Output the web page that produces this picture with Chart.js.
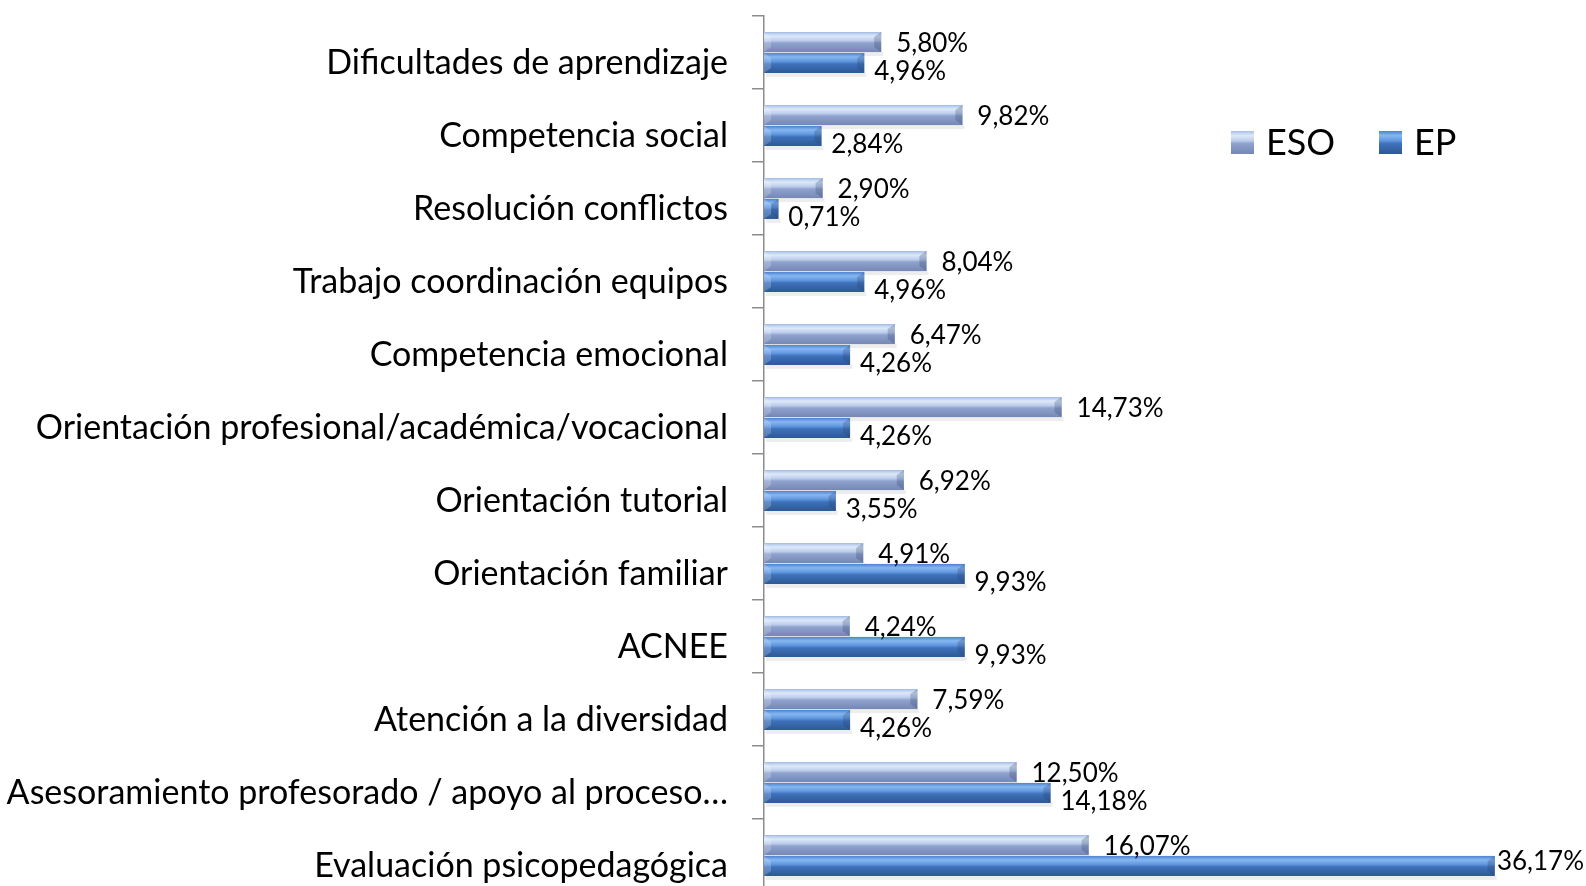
<!DOCTYPE html>
<html>
<head>
<meta charset="utf-8">
<script src="https://cdn.jsdelivr.net/npm/chart.js@4.4.1/dist/chart.umd.min.js"></script>
<style>
  html, body { margin: 0; padding: 0; overflow: hidden; background: #fff; }
</style>
</head>
<body>
<canvas id="chart" width="1586" height="892"></canvas>
<script>
const categories = [
  "Dificultades de aprendizaje",
  "Competencia social",
  "Resolución conflictos",
  "Trabajo coordinación equipos",
  "Competencia emocional",
  "Orientación profesional/académica/vocacional",
  "Orientación tutorial",
  "Orientación familiar",
  "ACNEE",
  "Atención a la diversidad",
  "Asesoramiento profesorado / apoyo al proceso…",
  "Evaluación psicopedagógica"
];
const esoValues = [5.80, 9.82, 2.90, 8.04, 6.47, 14.73, 6.92, 4.91, 4.24, 7.59, 12.50, 16.07];
const epValues = [4.96, 2.84, 0.71, 4.96, 4.26, 4.26, 3.55, 9.93, 9.93, 4.26, 14.18, 36.17];
const seriesNames = ["ESO", "EP"];

const FONT = "Lato";

// gradient stops per series (top -> bottom of bar)
const shades = [
  [[0, "#a7bfe6"], [0.2, "#dde9f9"], [0.42, "#bccdec"], [0.55, "#8fa2cd"], [1, "#7587b4"]],
  [[0, "#4d82cf"], [0.2, "#86b7f1"], [0.42, "#6097df"], [0.55, "#3f72bb"], [1, "#2d5893"]]
];

function makeGradient(ctx, i, top, h) {
  const g = ctx.createLinearGradient(0, top, 0, top + h);
  shades[i].forEach(([o, c]) => g.addColorStop(o, c));
  return g;
}

const barShade = {
  id: "barShade",
  beforeDatasetsDraw(chart) {
    const ctx = chart.ctx;
    ctx.save();
    ctx.fillStyle = "rgba(0,0,0,0.07)";
    chart.data.datasets.forEach((ds, i) => {
      chart.getDatasetMeta(i).data.forEach(bar => {
        const { x, y, base, height } = bar.getProps(["x", "y", "base", "height"], true);
        ctx.fillRect(base + 2, y + height / 2, x - base, 4);
      });
    });
    ctx.restore();
  },
  afterDatasetsDraw(chart) {
    const ctx = chart.ctx;
    ctx.save();
    chart.data.datasets.forEach((ds, i) => {
      chart.getDatasetMeta(i).data.forEach(bar => {
        const { x, y, base, height } = bar.getProps(["x", "y", "base", "height"], true);
        const top = y - height / 2;
        const bottom = top + height;
        ctx.fillStyle = makeGradient(ctx, i, top, height);
        ctx.fillRect(base, top, x - base, height);
        // bevelled ends
        const b = Math.min(7, (x - base) / 2);
        ctx.fillStyle = "rgba(40,60,100,0.25)";
        ctx.beginPath();
        ctx.moveTo(x, top); ctx.lineTo(x, bottom);
        ctx.lineTo(x - b, bottom - 5); ctx.lineTo(x - b, top + 5);
        ctx.closePath(); ctx.fill();
        ctx.fillStyle = "rgba(255,255,255,0.2)";
        ctx.beginPath();
        ctx.moveTo(base, top); ctx.lineTo(base, bottom);
        ctx.lineTo(base + b, bottom - 5); ctx.lineTo(base + b, top + 5);
        ctx.closePath(); ctx.fill();
      });
    });
    ctx.restore();
  }
};

const valueLabels = {
  id: "valueLabels",
  afterDatasetsDraw(chart) {
    const ctx = chart.ctx;
    ctx.save();
    ctx.font = "26px " + FONT;
    ctx.fillStyle = "#000";
    ctx.textBaseline = "middle";
    chart.data.datasets.forEach((ds, i) => {
      chart.getDatasetMeta(i).data.forEach((bar, j) => {
        const txt = ds.data[j].toFixed(2).replace(".", ",") + "%";
        const w = ctx.measureText(txt).width;
        let x = bar.x + (i === 0 ? 15 : 10);
        let dy = i === 0 ? 2 : 9;
        if (x + w > chart.width - 2) { x = chart.width - 2 - w; dy = -4; }
        ctx.fillText(txt, x, bar.y + dy);
      });
    });
    ctx.restore();
  }
};

const sideLegend = {
  id: "sideLegend",
  afterDraw(chart) {
    const ctx = chart.ctx;
    ctx.save();
    ctx.font = "36px " + FONT;
    ctx.textBaseline = "middle";
    const spots = [1231, 1379];
    chart.data.datasets.forEach((ds, i) => {
      const sx = spots[i], sy = 131, s = 23;
      ctx.fillStyle = makeGradient(ctx, i, sy, s);
      ctx.fillRect(sx, sy, s, s);
      ctx.fillStyle = "#000";
      ctx.fillText(ds.label, sx + 35, sy + s / 2 + 1);
    });
    ctx.restore();
  }
};

new Chart(document.getElementById("chart"), {
  type: "bar",
  data: {
    labels: categories,
    datasets: [
      { label: seriesNames[0], data: esoValues, backgroundColor: "#8ea4d2", categoryPercentage: 0.57, barPercentage: 0.96 },
      { label: seriesNames[1], data: epValues, backgroundColor: "#3d6fb8", categoryPercentage: 0.57, barPercentage: 0.96 }
    ]
  },
  options: {
    indexAxis: "y",
    responsive: false,
    devicePixelRatio: 1,
    animation: false,
    layout: { padding: { top: 16, right: 14, bottom: 0, left: 0 } },
    plugins: {
      legend: { display: false },
      tooltip: { enabled: false }
    },
    scales: {
      x: { min: 0, max: 40, display: false },
      y: {
        afterFit: (scale) => {
          scale.width = 764;
          scale.paddingTop = 0;
          scale.paddingBottom = 0;
        },
        border: { color: "#8c8c8c", width: 1.5 },
        grid: { offset: true, drawOnChartArea: false, tickLength: 12, color: "#8c8c8c", lineWidth: 1.5 },
        ticks: { autoSkip: false, padding: 24, labelOffset: 11, color: "#000", font: { family: FONT, size: 34 } }
      }
    }
  },
  plugins: [barShade, valueLabels, sideLegend]
});
</script>
</body>
</html>
